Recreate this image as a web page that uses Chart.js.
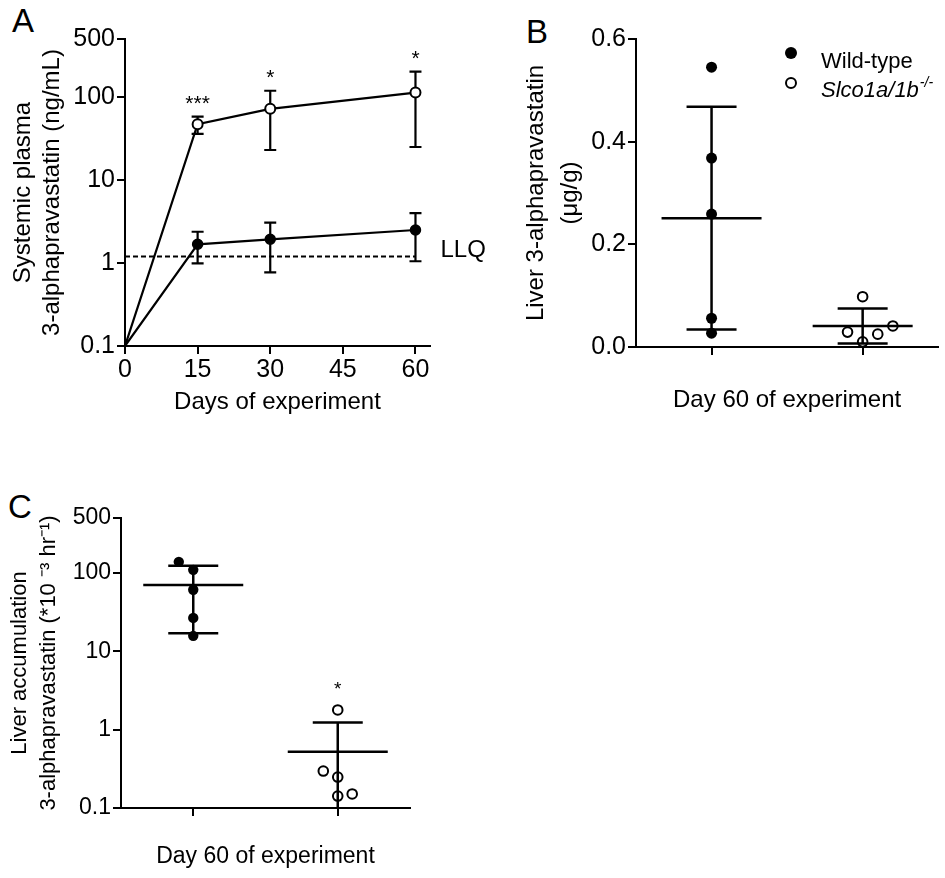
<!DOCTYPE html>
<html>
<head>
<meta charset="utf-8">
<script src="https://cdn.jsdelivr.net/npm/chart.js@4.4.1/dist/chart.umd.min.js"></script>
<style>
  html, body { margin: 0; padding: 0; background: #fff; }
  body { width: 945px; height: 878px; position: relative; overflow: hidden; }
  canvas { position: absolute; }
  #chartA { left: 0; top: 0; }
  #chartB { left: 500px; top: 0; }
  #chartC { left: 0; top: 460px; }
  .panel { position: absolute; font: 33px 'Liberation Sans', Arial, sans-serif; line-height: 33px; color: #000; }
</style>
</head>
<body>
<div class="panel" style="left:12px; top:4px;">A</div>
<div class="panel" style="left:526px; top:15px;">B</div>
<div class="panel" style="left:8px; top:490px;">C</div>
<canvas id="chartA" width="500" height="430"></canvas>
<canvas id="chartB" width="445" height="430"></canvas>
<canvas id="chartC" width="450" height="418"></canvas>
<script>
// values

// A - systemic plasma over time (mean, lower / upper error bar)
const days = [0, 15, 30, 60];
const wtPlasma = [0.1, 1.68, 1.93, 2.5];
const wtPlasmaLow = [null, 0.99, 0.77, 1.05];
const wtPlasmaHigh = [null, 2.38, 3.06, 4.0];
const koPlasma = [0.1, 47, 72, 113];
const koPlasmaLow = [null, 36, 23, 25];
const koPlasmaHigh = [null, 58, 119, 202];
const plasmaStars = ['', '***', '*', '*'];
const llq = 1.2;
const dayTicks = [0, 15, 30, 45, 60];
const logTicks = [0.1, 1, 10, 100, 500];

// B - liver concentration at day 60 (1 = wild-type, 2 = Slco1a/1b-/-)
const groups = [1, 2];
const wtLiver = [0.545, 0.368, 0.259, 0.056, 0.027];
const wtLiverJitter = [0, 0, 0, 0, 0];
const koLiver = [0.098, 0.029, 0.010, 0.025, 0.041];
const koLiverJitter = [0, -0.1, 0, 0.1, 0.2];
const liverMean = [0.251, 0.041];
const liverSd = [0.217, 0.034];
const liverTicks = [0, 0.2, 0.4, 0.6];

// C - liver accumulation
const wtAccum = [138, 109, 60.7, 26.6, 15.7];
const wtAccumJitter = [-0.1, 0, 0, 0, 0];
const koAccum = [1.78, 0.296, 0.248, 0.142, 0.151];
const koAccumJitter = [0, -0.1, 0, 0, 0.1];
const accumMean = [70, 0.52];
const accumSd = [53, 0.71];
const accumStars = ['', '*'];

const FONT = "'Liberation Sans', Arial, Helvetica, sans-serif";
Chart.defaults.font.family = FONT;
Chart.defaults.color = '#000';

function axis(extra) {
  return Object.assign({
    border: { display: true, color: '#000', width: 2 },
    grid: { display: true, drawOnChartArea: false, drawTicks: true, tickLength: 8, color: '#000', lineWidth: 2 },
  }, extra);
}

function drawStar(ctx, text, x, yCenter, size) {
  ctx.font = size + 'px ' + FONT;
  ctx.textAlign = 'center';
  ctx.textBaseline = 'alphabetic';
  ctx.fillText(text, x, yCenter + 0.58 * size);
}

// ---------- A ----------
const plasmaExtras = {
  id: 'plasmaExtras',
  beforeDatasetsDraw(chart) {
    const { ctx, scales: { x, y } } = chart;
    ctx.save();
    ctx.strokeStyle = '#000';
    ctx.lineWidth = 2.2;
    [[wtPlasmaLow, wtPlasmaHigh], [koPlasmaLow, koPlasmaHigh]].forEach(([lo, hi]) => {
      days.forEach((d, i) => {
        if (lo[i] == null) return;
        const px = x.getPixelForValue(d);
        const y1 = y.getPixelForValue(lo[i]);
        const y2 = y.getPixelForValue(hi[i]);
        ctx.beginPath();
        ctx.moveTo(px, y1); ctx.lineTo(px, y2);
        ctx.moveTo(px - 6, y1); ctx.lineTo(px + 6, y1);
        ctx.moveTo(px - 6, y2); ctx.lineTo(px + 6, y2);
        ctx.stroke();
      });
    });
    ctx.restore();
  },
  afterDatasetsDraw(chart) {
    const { ctx, scales: { x, y } } = chart;
    ctx.save();
    ctx.fillStyle = '#000';
    days.forEach((d, i) => {
      if (!plasmaStars[i]) return;
      drawStar(ctx, plasmaStars[i], x.getPixelForValue(d), y.getPixelForValue(koPlasmaHigh[i]) - 19, 21);
    });
    ctx.font = '24px ' + FONT;
    ctx.textAlign = 'left';
    ctx.textBaseline = 'alphabetic';
    ctx.fillText('LLQ', x.getPixelForValue(60) + 25, y.getPixelForValue(llq) + 1);
    ctx.restore();
  }
};

new Chart(document.getElementById('chartA'), {
  type: 'line',
  data: {
    datasets: [
      {
        data: days.map((d, i) => ({ x: d, y: wtPlasma[i] })),
        borderColor: '#000', borderWidth: 2.2,
        pointRadius: days.map(d => d === 0 ? 0 : 5),
        pointBackgroundColor: '#000', pointBorderColor: '#000', pointBorderWidth: 1.5,
        tension: 0
      },
      {
        data: days.map((d, i) => ({ x: d, y: koPlasma[i] })),
        borderColor: '#000', borderWidth: 2.2,
        pointRadius: days.map(d => d === 0 ? 0 : 5),
        pointBackgroundColor: '#fff', pointBorderColor: '#000', pointBorderWidth: 2,
        tension: 0
      },
      {
        data: [{ x: 0, y: llq }, { x: 60, y: llq }],
        borderColor: '#000', borderWidth: 2, borderDash: [5, 3],
        pointRadius: 0
      }
    ]
  },
  options: {
    responsive: false,
    animation: false,
    events: [],
    layout: { padding: { left: 0, top: 39, right: 70, bottom: 0 } },
    plugins: { legend: { display: false }, tooltip: { enabled: false } },
    scales: {
      x: axis({
        type: 'linear', min: 0, max: 63,
        afterBuildTicks: s => { s.ticks = dayTicks.map(v => ({ value: v })); },
        afterFit: s => { s.height = 84; },
        ticks: { font: { size: 25 }, padding: 1, color: '#000' },
        title: { display: true, text: 'Days of experiment', font: { size: 24 }, color: '#000', padding: { top: 0, bottom: 13 } }
      }),
      y: axis({
        type: 'logarithmic', min: 0.1, max: 500,
        afterBuildTicks: s => { s.ticks = logTicks.map(v => ({ value: v })); },
        afterFit: s => { s.width = 125; },
        ticks: { font: { size: 25 }, padding: 2, color: '#000', callback: v => String(v) },
        title: {
          display: true, text: ['Systemic plasma', '3-alphapravastatin (ng/mL)'],
          font: { size: 24, lineHeight: 29 / 24 }, color: '#000', padding: { top: 9, bottom: 0 }
        }
      })
    }
  },
  plugins: [plasmaExtras]
});

// ---------- B and C shared pieces ----------
function meanSdPlugin(id, means, sds, stars, starValues) {
  return {
    id: id,
    afterDatasetsDraw(chart) {
      const { ctx, scales: { x, y } } = chart;
      ctx.save();
      ctx.strokeStyle = '#000';
      ctx.fillStyle = '#000';
      ctx.lineWidth = 2.5;
      groups.forEach((g, i) => {
        const cx = x.getPixelForValue(g);
        const yMean = y.getPixelForValue(means[i]);
        const hiV = means[i] + sds[i];
        const loV = means[i] - sds[i];
        const yHi = y.getPixelForValue(hiV);
        const hasLo = loV > y.min;
        const yLo = hasLo ? y.getPixelForValue(loV) : y.bottom;
        ctx.beginPath();
        ctx.moveTo(cx - 50, yMean); ctx.lineTo(cx + 50, yMean);
        ctx.moveTo(cx, yHi); ctx.lineTo(cx, yLo);
        ctx.moveTo(cx - 25, yHi); ctx.lineTo(cx + 25, yHi);
        if (hasLo) { ctx.moveTo(cx - 25, yLo); ctx.lineTo(cx + 25, yLo); }
        ctx.stroke();
        if (stars && stars[i]) {
          drawStar(ctx, stars[i], cx, y.getPixelForValue(Math.max(...starValues[i])) - 26, 19);
        }
      });
      ctx.restore();
    }
  };
}

function groupPoints(values, jitter, g) {
  return values.map((v, i) => ({ x: g + jitter[i], y: v }));
}

// ---------- B ----------
const liverLegend = {
  id: 'liverLegend',
  afterDraw(chart) {
    const { ctx } = chart;
    ctx.save();
    ctx.strokeStyle = '#000';
    ctx.fillStyle = '#000';
    ctx.lineWidth = 2;
    ctx.beginPath(); ctx.arc(291, 53, 6, 0, Math.PI * 2); ctx.fill();
    ctx.beginPath(); ctx.arc(291, 83, 5, 0, Math.PI * 2); ctx.stroke();
    ctx.textAlign = 'left';
    ctx.textBaseline = 'alphabetic';
    ctx.font = '22px ' + FONT;
    ctx.fillText('Wild-type', 321, 68);
    ctx.font = 'italic 22px ' + FONT;
    ctx.fillText('Slco1a/1b', 321, 97);
    const w = ctx.measureText('Slco1a/1b').width;
    ctx.font = 'italic 14px ' + FONT;
    ctx.fillText('-/-', 321 + w + 1, 87);
    ctx.restore();
  }
};

new Chart(document.getElementById('chartB'), {
  type: 'scatter',
  data: {
    datasets: [
      {
        data: groupPoints(wtLiver, wtLiverJitter, groups[0]),
        pointRadius: 5.5, pointBackgroundColor: '#000', pointBorderColor: '#000', pointBorderWidth: 0
      },
      {
        data: groupPoints(koLiver, koLiverJitter, groups[1]),
        pointRadius: 4.8, pointBackgroundColor: 'rgba(255,255,255,0)', pointBorderColor: '#000', pointBorderWidth: 2
      }
    ]
  },
  options: {
    responsive: false,
    animation: false,
    events: [],
    layout: { padding: { left: 0, top: 39, right: 0, bottom: 0 } },
    plugins: { legend: { display: false }, tooltip: { enabled: false } },
    scales: {
      x: axis({
        type: 'linear', min: 0.5, max: 2.5,
        afterBuildTicks: s => { s.ticks = groups.map(v => ({ value: v })); },
        afterFit: s => { s.height = 83; },
        ticks: { font: { size: 24 }, callback: () => '' },
        title: { display: true, text: 'Day 60 of experiment', font: { size: 24 }, color: '#000', padding: { top: 0, bottom: 15 } }
      }),
      y: axis({
        type: 'linear', min: 0, max: 0.6,
        afterBuildTicks: s => { s.ticks = liverTicks.map(v => ({ value: v })); },
        afterFit: s => { s.width = 136; },
        ticks: { font: { size: 25 }, padding: 2, color: '#000', callback: v => v.toFixed(1) },
        title: {
          display: true, text: ['Liver 3-alphapravastatin', '(\u03bcg/g)'],
          font: { size: 24, lineHeight: 34.4 / 24 }, color: '#000', padding: { top: 19, bottom: 0 }
        }
      })
    }
  },
  plugins: [meanSdPlugin('liverMeanSd', liverMean, liverSd), liverLegend]
});

// ---------- C ----------
new Chart(document.getElementById('chartC'), {
  type: 'scatter',
  data: {
    datasets: [
      {
        data: groupPoints(wtAccum, wtAccumJitter, groups[0]),
        pointRadius: 5.2, pointBackgroundColor: '#000', pointBorderColor: '#000', pointBorderWidth: 0
      },
      {
        data: groupPoints(koAccum, koAccumJitter, groups[1]),
        pointRadius: 4.8, pointBackgroundColor: 'rgba(255,255,255,0)', pointBorderColor: '#000', pointBorderWidth: 2
      }
    ]
  },
  options: {
    responsive: false,
    animation: false,
    events: [],
    layout: { padding: { left: 0, top: 58, right: 40, bottom: 0 } },
    plugins: { legend: { display: false }, tooltip: { enabled: false } },
    scales: {
      x: axis({
        type: 'linear', min: 0.5, max: 2.5,
        afterBuildTicks: s => { s.ticks = groups.map(v => ({ value: v })); },
        afterFit: s => { s.height = 70; },
        ticks: { font: { size: 23 }, callback: () => '' },
        title: { display: true, text: 'Day 60 of experiment', font: { size: 23 }, color: '#000', padding: { top: 0, bottom: 8 } }
      }),
      y: axis({
        type: 'logarithmic', min: 0.1, max: 500,
        afterBuildTicks: s => { s.ticks = logTicks.map(v => ({ value: v })); },
        afterFit: s => { s.width = 121; },
        ticks: { font: { size: 23 }, padding: 2, color: '#000', callback: v => String(v) },
        title: {
          display: true, text: ['Liver accumulation', '3-alphapravastatin (*10 \u207b\u00b3 hr\u207b\u00b9)'],
          font: { size: 22, lineHeight: 29 / 22 }, color: '#000', padding: { top: 5, bottom: 0 }
        }
      })
    }
  },
  plugins: [meanSdPlugin('accumMeanSd', accumMean, accumSd, accumStars, [wtAccum, koAccum])]
});
</script>
</body>
</html>
